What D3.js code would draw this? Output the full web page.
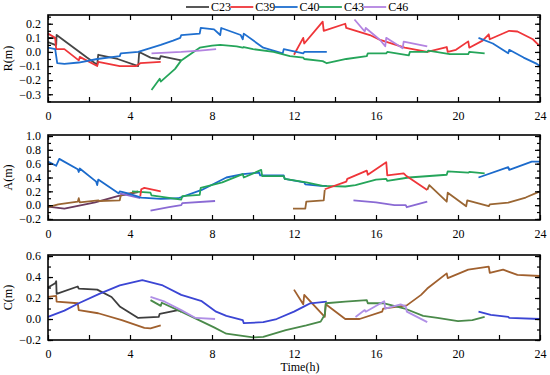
<!DOCTYPE html>
<html>
<head>
<meta charset="utf-8">
<script src="https://cdn.jsdelivr.net/npm/d3@7"></script>
<style>
  body { margin: 0; background: #fff; }
  svg text { font-family: "Liberation Serif", "DejaVu Serif", serif; }
</style>
</head>
<body>
<svg id="chart" width="550" height="375"></svg>
<script>
// legend
var legendNames = ["C23", "C39", "C40", "C43", "C46"];
var legendColors = ["#464646", "#ef3539", "#1f6fcf", "#25a55a", "#b383e0"];

var xTicks = [0, 4, 8, 12, 16, 20, 24];

// panel R(m)  -- [time, value], null = gap
var rC23 = [[0,0.1],[0.4,0.1],null,[0,0.07],[0.35,0.05],[0.4,0.05],[0.42,0.12],[1.9,-0.04],[2.4,-0.09],[2.45,-0.02],[3.4,-0.05],[4.4,-0.1],[4.45,0.0],[5.0,-0.04],[5.45,-0.05],[5.5,-0.03],[6.5,-0.06]];
var rC39 = [[0,0.13],[0.35,0.1],[0.4,0.02],[0.8,0.02],[1.5,-0.06],[1.55,-0.035],[2.4,-0.1],[2.45,-0.07],[3.5,-0.1],[4.3,-0.1],[4.5,-0.08],[5.5,-0.07],null,
  [12.0,-0.02],[12.45,0.1],[12.5,0.06],[13.4,0.215],[13.45,0.15],[14.5,0.2],[14.55,0.17],[15.7,0.12],[16.2,0.085],[17.4,0.03],[18.5,0.0],[19.45,0.035],[19.5,0.0],[19.9,0.015],[20.5,0.075],[20.55,0.03],[21.2,0.08],[21.5,0.125],[21.55,0.09],[22.5,0.15],[22.9,0.145],[23.65,0.09],[24,0.04]];
var rC40 = [[0,0.03],[0.35,0.02],[0.45,-0.08],[0.8,-0.085],[1.5,-0.075],[2.4,-0.05],[3.5,-0.03],[3.55,-0.01],[4.4,0.0],[5.5,0.05],[6.1,0.08],[6.45,0.1],[6.5,0.12],[7.4,0.13],[7.45,0.17],[8.1,0.16],[8.4,0.12],[8.45,0.17],[9.4,0.12],[9.5,0.09],[9.55,0.13],[10.5,0.03],[11.45,-0.01],[11.5,0.02],[12.45,-0.01],[12.5,0.0],[13.6,0.0],null,
  [21.0,0.1],[21.7,0.06],[22.45,-0.01],[22.5,0.015],[23.2,-0.04],[23.85,-0.085],[24,-0.1]];
var rC43 = [[5.05,-0.27],[5.45,-0.19],[5.5,-0.21],[6.2,-0.12],[6.5,-0.06],[7.4,0.03],[8.0,0.045],[8.4,0.05],[9.2,0.04],[9.5,0.03],[9.55,0.035],[10.0,0.02],[11.0,0.0],[11.8,-0.03],[12.45,-0.04],[12.5,-0.05],[13.4,-0.065],[13.6,-0.08],[14.55,-0.05],[15.55,-0.03],[15.6,-0.01],[16.5,-0.01],[16.55,0.0],[17.6,-0.025],[17.65,0.0],[18.5,0.0],[18.55,0.01],[19.6,-0.015],[20.5,-0.015],[20.55,0.0],[21.3,-0.01]];
var rC46 = [[5.05,-0.01],[6.5,0.0],[7.4,0.01],[8.2,0.02],null,
  [14.95,0.23],[15.45,0.145],[15.5,0.17],[16.2,0.085],[16.45,0.04],[16.5,0.1],[17.3,0.026],[17.35,0.073],[18.5,0.04]];

// panel A(m)
var aBlue = [[0,0.63],[0.4,0.57],[0.55,0.67],[1.45,0.52],[1.5,0.48],[1.55,0.53],[2.35,0.34],[2.4,0.29],[2.45,0.37],[3.35,0.19],[3.45,0.17],[3.5,0.2],[3.9,0.17],[4.55,0.11],[5.5,0.09],[6.35,0.1],[7.5,0.22],[8.7,0.4],[9.5,0.45],[10.3,0.47],[10.35,0.43],[11.5,0.43],[11.55,0.38],[12.5,0.33],[12.55,0.3],[13.3,0.28],[13.6,0.28],null,
  [21.0,0.4],[22.45,0.55],[22.5,0.51],[23.6,0.63],[24,0.63]];
var aGreen = [[4.1,0.2],[5.0,0.18],[5.05,0.14],[6.5,0.08],[6.55,0.13],[7.4,0.15],[7.45,0.25],[8.5,0.33],[9.5,0.45],[9.55,0.4],[10.4,0.51],[10.45,0.42],[11.5,0.42],[11.55,0.38],[12.6,0.33],[13.4,0.28],[14.5,0.27],[15.0,0.29],[16.0,0.37],[16.5,0.38],[16.55,0.35],[17.6,0.4],[19.45,0.44],[19.5,0.49],[20.5,0.47],[20.55,0.48],[21.3,0.46]];
var aRed = [[4.5,0.13],[4.55,0.23],[4.7,0.25],[5.5,0.2],null,
  [13.5,0.23],[14.55,0.34],[14.6,0.38],[15.55,0.5],[15.6,0.44],[16.5,0.62],[16.55,0.43],[17.35,0.46],[17.45,0.43],[18.5,0.22]];
var aBrown = [[0,-0.03],[0.5,0.01],[1.45,0.05],[1.5,0.1],[1.55,0.04],[2.45,0.07],[2.5,0.06],[3.5,0.07],[3.55,0.14],[4.4,0.2],null,
  [11.95,-0.05],[12.55,-0.05],[12.6,0.05],[13.45,0.07],[13.5,0.22],null,
  [18.5,0.22],[18.6,0.29],[19.45,0.05],[19.5,0.18],[20.4,-0.015],[20.45,0.07],[21.5,-0.015],[21.55,0.01],[22.45,0.035],[23.3,0.11],[24,0.2]];
var aPlum = [[0,-0.02],[0.8,-0.05],[2.3,0.04],[3.4,0.13],[4.4,0.19]];
var aPurple = [[3.5,0.17],[4.5,0.1],null,[5.0,-0.08],[5.9,-0.03],[6.5,0.0],[6.55,0.03],[8.15,0.06],null,
  [14.9,0.07],[16.0,0.04],[16.9,0.0],[17.45,0.0],[17.5,-0.03],[18.5,0.05]];

// panel C(m)
var cGray = [[0,0.3],[0.35,0.34],[0.4,0.36],[0.42,0.24],[1.45,0.31],[1.5,0.29],[2.4,0.28],[3.1,0.21],[3.5,0.12],[4.4,0.01],[5.4,0.02],[5.45,0.05],[6.35,0.085],[6.5,0.07]];
var cBrown = [[0,0.21],[0.4,0.22],[0.42,0.165],[1.45,0.15],[1.5,0.085],[2.45,0.055],[3.6,-0.01],[4.7,-0.085],[5.0,-0.09],[5.5,-0.06],null,
  [12.0,0.28],[12.45,0.14],[12.5,0.23],[13.5,0.02],[13.55,0.14],[14.5,0.0],[15.2,0.0],[16.3,0.07],[16.35,0.1],[17.5,0.13],[18.2,0.23],[18.5,0.29],[19.45,0.435],[19.5,0.39],[20.5,0.47],[21.5,0.5],[21.55,0.44],[22.2,0.47],[22.9,0.42],[24,0.41]];
var cBlue = [[0,0.02],[0.8,0.08],[1.5,0.15],[2.5,0.24],[3.5,0.32],[4.6,0.37],[5.6,0.32],[6.5,0.23],[7.5,0.17],[8.2,0.07],[8.7,0.03],[9.5,-0.01],[9.55,-0.04],[10.5,-0.03],[11.15,0.0],[12.0,0.07],[12.5,0.12],[12.8,0.15],[13.6,0.165],null,
  [21.0,0.07],[21.6,0.04],[22.45,0.02],[22.5,0.01],[24,0.0]];
var cGreen = [[5.0,0.18],[5.5,0.125],[5.55,0.155],[6.5,0.07],[8.1,-0.08],[8.7,-0.14],[10.0,-0.175],[10.5,-0.17],[11.6,-0.105],[12.6,-0.06],[13.3,-0.025],[13.5,0.04],[13.55,0.15],[14.5,0.165],[15.55,0.18],[15.6,0.15],[16.4,0.15],[17.4,0.1],[18.3,0.03],[19.0,0.01],[20.0,-0.02],[20.7,-0.01],[21.3,0.02]];
var cPurple = [[5.0,0.21],[5.7,0.165],[6.5,0.085],[7.2,0.01],[8.15,0.0],null,
  [15.0,0.02],[15.45,0.085],[15.5,0.07],[16.4,0.17],[16.45,0.1],[17.2,0.14],[17.45,0.12],[17.5,0.07],[18.5,-0.03]];

var panels = [
  { label: "R(m)", top: 15, bottom: 102, domain: [-0.355, 0.262], major: [0.2, 0.1, 0, -0.1, -0.2, -0.3], step: 0.05,
    series: [[rC23, "#464646"], [rC39, "#ef3539"], [rC40, "#1f6fcf"], [rC43, "#25a55a"], [rC46, "#b383e0"]] },
  { label: "A(m)", top: 135, bottom: 220, domain: [-0.215, 1.015], major: [1, 0.8, 0.6, 0.4, 0.2, 0, -0.2], step: 0.1,
    series: [[aPlum, "#6a3a5e"], [aBrown, "#9a6633"], [aPurple, "#8a6ad4"], [aBlue, "#1b6acb"], [aGreen, "#25a55a"], [aRed, "#ef3539"]] },
  { label: "C(m)", top: 255, bottom: 340, domain: [-0.2, 0.61], major: [0.6, 0.4, 0.2, 0, -0.2], step: 0.1,
    series: [[cGray, "#3e3e3e"], [cBrown, "#a0602e"], [cBlue, "#3b45d4"], [cGreen, "#4a8a4a"], [cPurple, "#b08fe6"]] }
];

var svg = d3.select("#chart");
var left = 48, right = 540;

var x = d3.scaleLinear().domain([0, 24]).range([left, right]);

panels.forEach(function (p) {
  var y = d3.scaleLinear().domain(p.domain).range([p.bottom, p.top]);
  var g = svg.append("g");

  var minor = d3.range(-1, 1.0001, p.step).map(function (v) { return Math.round(v * 100) / 100; })
    .filter(function (v) { return v >= p.domain[0] && v <= p.domain[1]; });

  // lines
  var line = d3.line()
    .defined(function (d) { return d !== null; })
    .x(function (d) { return x(d[0]); })
    .y(function (d) { return y(d[1]); });

  p.series.forEach(function (s) {
    g.append("path")
      .datum(s[0])
      .attr("d", line)
      .attr("fill", "none")
      .attr("stroke", s[1])
      .attr("stroke-width", 1.8)
      .attr("stroke-linejoin", "round");
  });

  // axes, ticks inward
  g.append("g").attr("transform", "translate(" + left + ",0)")
    .call(d3.axisLeft(y).tickValues(minor).tickSize(-3).tickFormat(""));
  g.append("g").attr("transform", "translate(" + left + ",0)")
    .call(d3.axisLeft(y).tickValues(p.major).tickSize(-5).tickPadding(7)
      .tickFormat(function (d) { return d3.format(".1f")(d).replace("-", "\u2212"); }));
  g.append("g").attr("transform", "translate(" + right + ",0)")
    .call(d3.axisRight(y).tickValues(minor).tickSize(-3).tickFormat(""));
  g.append("g").attr("transform", "translate(" + right + ",0)")
    .call(d3.axisRight(y).tickValues(p.major).tickSize(-5).tickFormat(""));

  g.append("g").attr("transform", "translate(0," + p.bottom + ")")
    .call(d3.axisBottom(x).tickValues(d3.range(0, 25, 2)).tickSize(-5).tickPadding(9)
      .tickFormat(function (d) { return xTicks.indexOf(d) >= 0 ? d : ""; }));
  g.append("g").attr("transform", "translate(0," + p.top + ")")
    .call(d3.axisTop(x).tickValues(d3.range(0, 25, 2)).tickSize(-5).tickFormat(""));

  g.selectAll(".domain").remove();
  g.selectAll(".tick line").attr("stroke", "#000").attr("stroke-width", 1.2);
  g.selectAll(".tick text").attr("font-size", 12).attr("fill", "#000")
    .attr("font-family", "Liberation Serif");

  g.append("rect")
    .attr("x", left).attr("y", p.top)
    .attr("width", right - left).attr("height", p.bottom - p.top)
    .attr("fill", "none").attr("stroke", "#000").attr("stroke-width", 1.6);

  g.append("text")
    .attr("transform", "translate(12," + (p.top + p.bottom) / 2 + ") rotate(-90)")
    .attr("text-anchor", "middle")
    .attr("font-size", 12)
    .text(p.label);
});

svg.append("text")
  .attr("x", 300).attr("y", 371)
  .attr("text-anchor", "middle")
  .attr("font-size", 12)
  .text("Time(h)");

// legend
var legend = svg.append("g");
legendNames.forEach(function (name, i) {
  var lx = 186 + i * 44.3;
  legend.append("line")
    .attr("x1", lx).attr("x2", lx + 23)
    .attr("y1", 7).attr("y2", 7)
    .attr("stroke", legendColors[i]).attr("stroke-width", 1.8);
  legend.append("text")
    .attr("x", lx + 25).attr("y", 11)
    .attr("font-size", 12)
    .text(name);
});
</script>
</body>
</html>
